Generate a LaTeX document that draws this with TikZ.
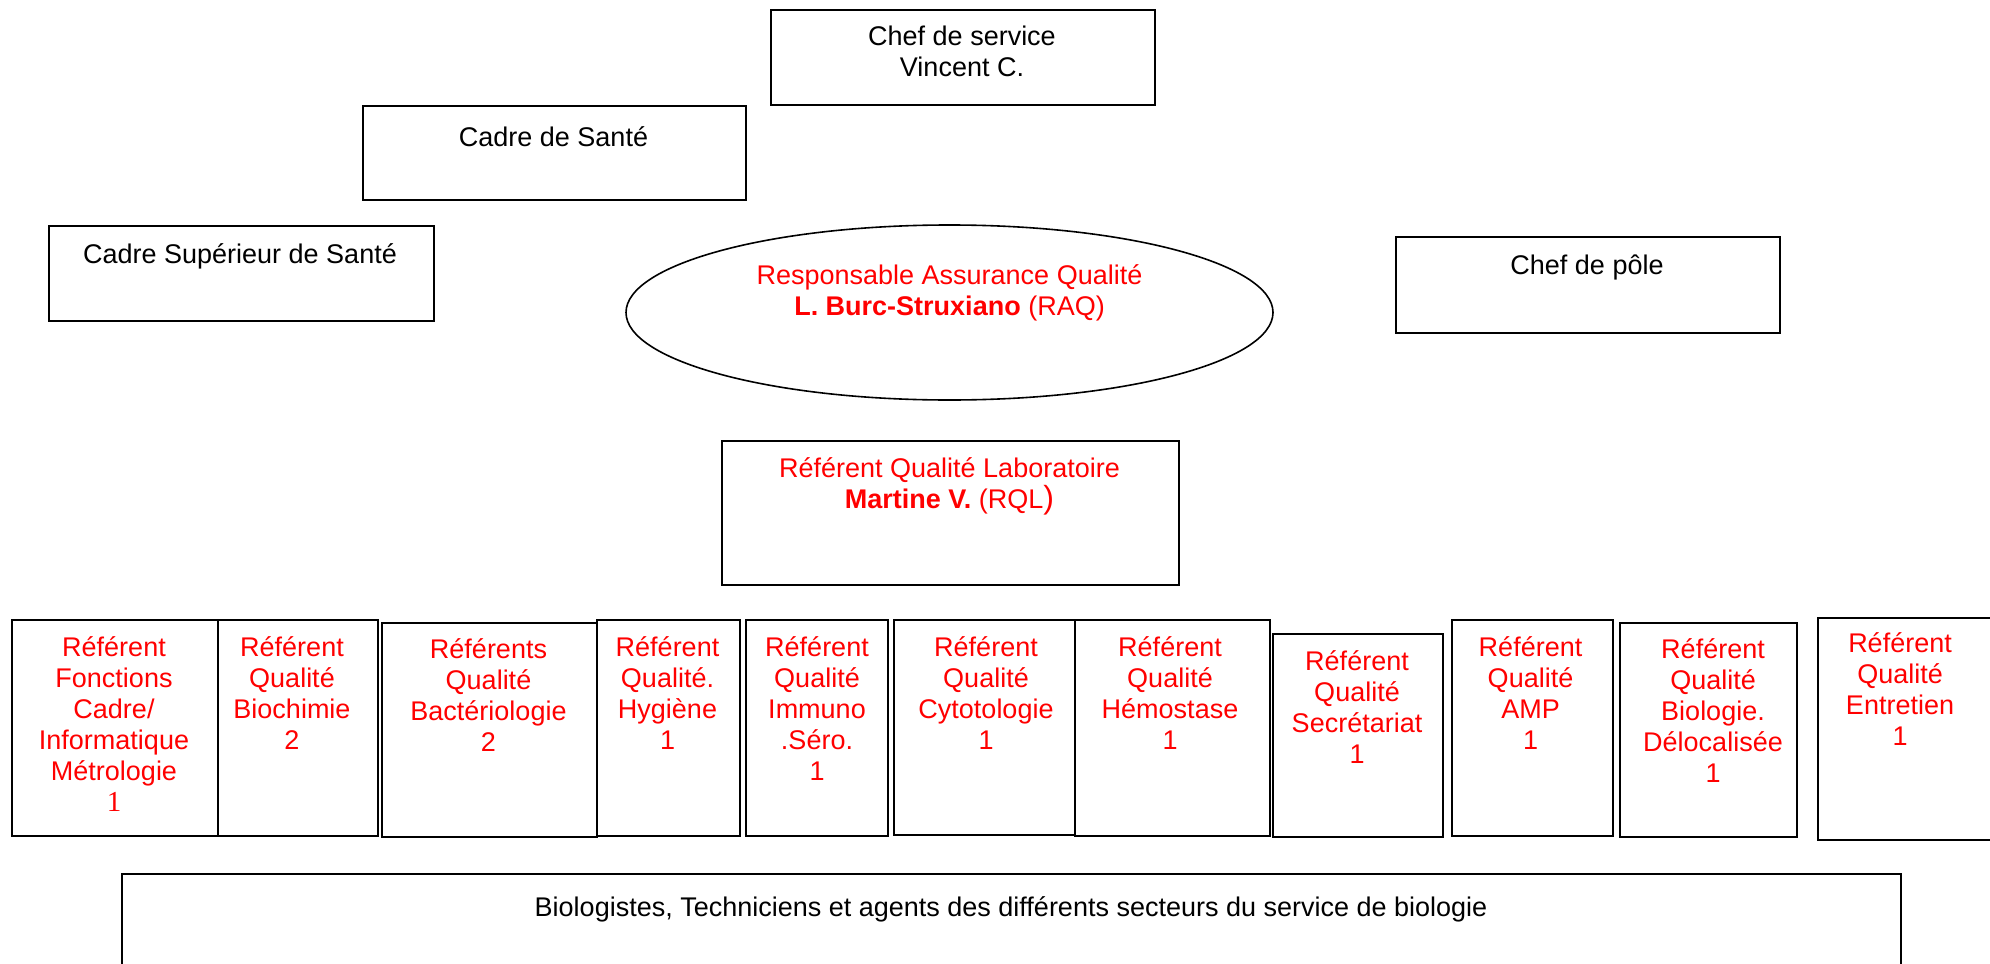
\documentclass[tikz,border=0pt]{standalone}
\usepackage{fontspec}
\setmainfont{Liberation Sans}
\newfontfamily\tnrfont{Liberation Serif}
\usetikzlibrary{shapes.geometric}
\newcommand\tstrut{\rule{0pt}{11pt}}
\begin{document}
\begin{tikzpicture}[x=0.5pt,y=-0.5pt,
  box/.style={draw=black, line width=1pt, anchor=north west, inner sep=0pt},
  lbl/.style={anchor=north, inner sep=0pt, align=center, font=\fontsize{13.5}{15.5}\selectfont},
  rlbl/.style={lbl, text=red},
  rowbox/.style={box, minimum height=108pt}
]
\useasboundingbox (0,0) rectangle (1990,963);
\clip (0,0) rectangle (1990,963);

% top boxes
\node[box, minimum width=192pt, minimum height=47.5pt] (chef) at (770,9) {};
\node[lbl] (chefT) at (962,23.5) {\tstrut Chef de service\\Vincent C.};

\node[box, minimum width=191.5pt, minimum height=47pt] (cadre) at (362,105) {};
\node[lbl] (cadreT) at (553.5,124) {\tstrut Cadre de Santé};

\node[box, minimum width=192.5pt, minimum height=47.5pt] (csup) at (48,225) {};
\node[lbl] (csupT) at (240,240.6) {\tstrut Cadre Supérieur de Santé};

\node[box, minimum width=192pt, minimum height=48pt] (pole) at (1395,236) {};
\node[lbl] (poleT) at (1587,252) {\tstrut Chef de pôle};

\node[draw=black, line width=0.8pt, ellipse, inner sep=0pt, minimum width=323.5pt, minimum height=87.5pt] (raq) at (949.5,312.5) {};
\node[rlbl] (raqT) at (949.5,262) {\tstrut Responsable Assurance Qualité\\\textbf{L. Burc-Struxiano} (RAQ)};

\node[box, minimum width=228.5pt, minimum height=72pt] (rql) at (721,440) {};
\node[rlbl] (rqlT) at (949.5,455) {\tstrut Référent Qualité Laboratoire\\\textbf{Martine V.} (RQL{\fontsize{16}{15.5}\selectfont )}};

% row of referents
\node[rowbox, minimum width=103pt] (r1) at (11,619) {};
\node[rlbl] (r1T) at (114,634) {\tstrut Référent\\Fonctions\\Cadre/\\Informatique\\Métrologie\\{\tnrfont\fontsize{14.5}{15.5}\selectfont 1}};

\node[rowbox, minimum width=80pt] (r2) at (217,619) {};
\node[rlbl] (r2T) at (292,634) {\tstrut Référent\\Qualité\\Biochimie\\2};

\node[box, minimum width=107.5pt, minimum height=107pt] (r3) at (381,622) {};
\node[rlbl] (r3T) at (488.5,636.5) {\tstrut Référents\\Qualité\\Bactériologie\\2};

\node[rowbox, minimum width=71.5pt] (r4) at (596,619) {};
\node[rlbl] (r4T) at (667.5,634) {\tstrut Référent\\Qualité.\\Hygiène\\1};

\node[rowbox, minimum width=71pt] (r5) at (745,619) {};
\node[rlbl] (r5T) at (817,634) {\tstrut Référent\\Qualité\\Immuno\\.Séro.\\1};

\node[box, minimum width=90.5pt, minimum height=107.5pt] (r6) at (893,619) {};
\node[rlbl] (r6T) at (986,634) {\tstrut Référent\\Qualité\\Cytotologie\\1};

\node[rowbox, minimum width=97.5pt] (r7) at (1074,619) {};
\node[rlbl] (r7T) at (1170,634) {\tstrut Référent\\Qualité\\Hémostase\\1};

\node[box, minimum width=85pt, minimum height=101.5pt] (r8) at (1272,633) {};
\node[rlbl] (r8T) at (1357,648) {\tstrut Référent\\Qualité\\Secrétariat\\1};

\node[rowbox, minimum width=80.5pt] (r9) at (1451,619) {};
\node[rlbl] (r9T) at (1530.5,634) {\tstrut Référent\\Qualité\\AMP\\1};

\node[box, minimum width=88.5pt, minimum height=107pt] (r10) at (1619,622) {};
\node[rlbl] (r10T) at (1713,636.5) {\tstrut Référent\\Qualité\\Biologie.\\Délocalisée\\1};

\node[box, minimum width=100pt, minimum height=111pt] (r11) at (1817,617) {};
\node[rlbl] (r11T) at (1900,630) {\tstrut Référent\\Qualité\\Entretien\\1};

% bottom box
\node[box, minimum width=889.5pt, minimum height=63.5pt] (staff) at (121,873) {};
\node[lbl] (staffT) at (1011,894) {\tstrut Biologistes, Techniciens et agents des différents secteurs du service de biologie};
\end{tikzpicture}
\end{document}
